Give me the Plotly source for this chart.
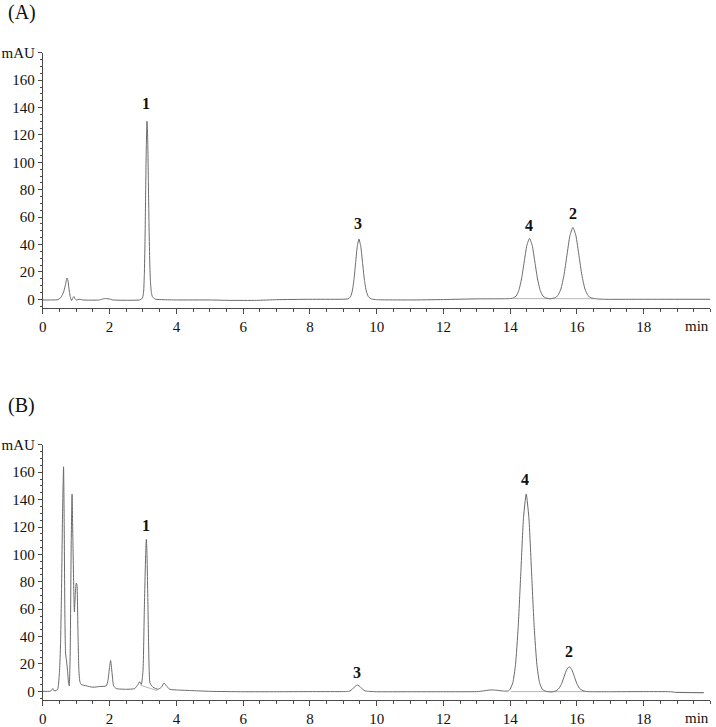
import plotly.graph_objects as go

# ---------------- Data ----------------
# Chromatogram (A): time (min) and absorbance (mAU)
a_time = [0.0, 0.3, 0.45, 0.52, 0.58, 0.63, 0.68, 0.72, 0.75, 0.78, 0.82, 0.86, 0.9, 0.93, 0.96,
          1.0, 1.1, 1.2, 1.7, 1.8, 1.9, 2.0, 2.1, 2.9, 2.96, 2.98, 3.0, 3.02, 3.04, 3.06, 3.08,
          3.1, 3.12, 3.14, 3.16, 3.18, 3.2, 3.22, 3.25, 3.28, 3.32, 3.38, 3.6, 4.0, 5.0, 5.6,
          6.4, 7.0, 8.0, 8.9, 9.12, 9.17, 9.22, 9.27, 9.32, 9.37, 9.42, 9.47, 9.525, 9.58,
          9.635, 9.69, 9.745, 9.8, 9.85, 10.0, 11.0, 12.0, 13.0, 14.0, 14.1, 14.18, 14.26,
          14.34, 14.42, 14.5, 14.58, 14.66, 14.74, 14.82, 14.9, 14.98, 15.06, 15.14, 15.2,
          15.25, 15.34, 15.43, 15.52, 15.61, 15.7, 15.79, 15.88, 15.97, 16.06, 16.15, 16.24,
          16.33, 16.42, 16.51, 16.6, 16.8, 18.0, 20.0]
a_mau = [-0.5, -0.5, -0.3, 0.8, 3, 6, 11, 15.5, 14, 8, 2, -1, 1, 2, 0.5,
         -0.5, 0, -0.5, -0.5, 0.3, 0.5, 0.2, -0.5, -0.5, 0.3, 0.8, 2.5, 6, 18, 42, 79,
         113, 130, 118, 88, 55, 30, 14, 5, 2, 0.8, 0, -0.3, -0.5, -0.5, -0.8,
         -0.8, -0.3, 0, 0, 0.2, 0.6, 2, 6, 14.3, 26.7, 38.8, 44, 38.5, 26,
         13.8, 6, 2.2, 0.8, 0.2, -0.3, -0.5, -0.2, 0.3, 0.5, 1.0, 2.4, 6.5,
         14.8, 27.2, 39.3, 44.5, 39.3, 27.2, 14.8, 6.5, 2.4, 1.0, 0.6, 0.3,
         0.6, 1.1, 2.8, 7.5, 17.4, 32, 46.4, 52.5, 46.4, 32, 17.4, 7.5,
         2.8, 1.1, 0.6, 0.3, 0, 0, 0]

# Chromatogram (B)
b_time = [0.0, 0.2, 0.25, 0.3, 0.33, 0.4, 0.45, 0.5, 0.53, 0.56, 0.59, 0.62, 0.64, 0.66, 0.68,
          0.71, 0.74, 0.77, 0.79, 0.82, 0.85, 0.875, 0.9, 0.93, 0.945, 0.97, 1.0, 1.02, 1.05,
          1.08, 1.11, 1.15, 1.3, 1.5, 1.7, 1.9, 1.95, 2.0, 2.03, 2.07, 2.12, 2.2, 2.5, 2.75,
          2.85, 2.9, 2.95, 3.0, 3.04, 3.08, 3.1, 3.12, 3.15, 3.18, 3.21, 3.3, 3.45, 3.55, 3.63,
          3.7, 3.8, 4.0, 4.5, 5.0, 6.0, 7.0, 8.0, 8.9, 9.1, 9.2, 9.27, 9.35, 9.43, 9.5, 9.58,
          9.65, 9.75, 10.0, 11.0, 12.0, 13.0, 13.2, 13.4, 13.6, 13.8, 13.95, 14.0, 14.08,
          14.16, 14.24, 14.32, 14.4, 14.48, 14.56, 14.64, 14.72, 14.8, 14.88, 14.96, 15.04,
          15.15, 15.25, 15.3, 15.35, 15.4, 15.47, 15.545, 15.62, 15.695, 15.77, 15.845, 15.92,
          15.995, 16.07, 16.15, 16.22, 16.3, 16.5, 17.0, 18.0, 18.8, 19.0, 19.8]
b_mau = [0, 0, 0.5, 2, 0.5, 0.5, 2, 15, 35, 75, 130, 164, 120, 55, 28,
         22, 15, 6, 4, 30, 110, 144, 110, 70, 58, 70, 79, 78, 45,
         15, 7, 5, 4, 3, 3.5, 4, 8, 18, 22.5, 14, 4, 2, 1.5, 2,
         5, 7, 5, 15, 60, 100, 111, 100, 60, 20, 6, 3, 1.5, 3, 6,
         4, 1.5, 1, 0.5, 0, -0.3, -0.3, -0.2, -0.2, -0.1, 0.2, 1.5, 3.5, 4.6, 3.5, 1.5,
         0.3, 0, -0.3, -0.3, -0.3, -0.2, 0.3, 1, 0.8, 0.2, 0.3, 1.6, 6.3,
         19.5, 46.8, 87.3, 127, 144, 127, 87.3, 46.8, 19.5, 6.3, 1.6, 0.3,
         -0.3, -0.5, -0.2, 0.2, 0.8, 2.4, 5.8, 11, 15.9, 18, 15.9, 11,
         5.8, 2.4, 0.8, 0.2, -0.2, -0.3, -0.3, -0.2, -0.3, -0.8, -1.0]

# Integration baselines (pale lines under some peaks)
a_base_time = [14.1, 16.55]
a_base_mau = [0.5, 0.4]
b_base1_time = [2.93, 3.43]
b_base1_mau = [4.4, 0.5]
b_base2_time = [14.02, 16.25]
b_base2_mau = [-0.2, -0.2]
b_base3_time = [19.0, 19.8]
b_base3_mau = [-0.7, -1.0]

# Peak labels: (label, time, mAU position)
a_peaks = [("1", 3.1, 143), ("3", 9.45, 55), ("4", 14.55, 54), ("2", 15.87, 63)]
b_peaks = [("1", 3.1, 121), ("3", 9.42, 14), ("4", 14.43, 155), ("2", 15.77, 29)]

x_ticks = [0, 2, 4, 6, 8, 10, 12, 14, 16, 18]
y_ticks = [0, 20, 40, 60, 80, 100, 120, 140, 160, 180]
y_ticktext = ["0", "20", "40", "60", "80", "100", "120", "140", "160", "mAU"]

# ---------------- Figure ----------------
W, H = 716, 727
FONT = "Liberation Serif"
LINE = "#6a6a6a"
AX = "#4a4a4a"
BASE = "#b8b8b8"

# correction between layout pixels and photographed pixels (measured)
fx = lambda t: (t - 2.0) / 0.998
fy = lambda t: (t - 7.1) / 0.990

X0, X_END = fx(41), fx(711)
PX_PER_MIN = 33.5 / 0.998
X_MAX = (X_END - X0) / PX_PER_MIN

fig = go.Figure()

def add(t, v, xa, ya, color, width=1.0):
    fig.add_trace(go.Scatter(x=t, y=v, xaxis=xa, yaxis=ya, mode="lines",
                             line=dict(color=color, width=width, shape="spline", smoothing=0.5),
                             showlegend=False, hoverinfo="skip"))

add(a_base_time, a_base_mau, "x", "y", BASE, 1)
add(a_time, a_mau, "x", "y", LINE)
add(b_base1_time, b_base1_mau, "x2", "y2", BASE, 1)
add(b_base2_time, b_base2_mau, "x2", "y2", BASE, 1)
add(b_base3_time, b_base3_mau, "x2", "y2", BASE, 1)
add(b_time, b_mau, "x2", "y2", LINE)

px_x = lambda p: min(1.0, max(0.0, fx(p) / W))
px_y = lambda p: min(1.0, max(0.0, 1 - fy(p) / H))

xdom = [px_x(41), px_x(711)]
ydomA = [px_y(308), px_y(52)]
ydomB = [px_y(701), px_y(445)]

TF = dict(family=FONT, size=15, color="#111")

def xaxis(anchor):
    return dict(domain=xdom, anchor=anchor, range=[0, X_MAX], showgrid=False, zeroline=False,
                showline=True, linecolor=AX, linewidth=1, ticks="outside", ticklen=5,
                tickcolor=AX, tickwidth=1, tickmode="array", tickvals=x_ticks,
                tickfont=TF,
                minor=dict(tickmode="linear", tick0=0, dtick=0.5, ticklen=3, ticks="outside",
                           tickcolor=AX, showgrid=False),
                fixedrange=True)

def yaxis(anchor, dom):
    return dict(domain=dom, anchor=anchor, range=[-6.5, 180], showgrid=False, zeroline=False,
                showline=True, linecolor=AX, linewidth=1, ticks="outside", ticklen=4,
                tickcolor=AX, tickwidth=1, tickmode="array", tickvals=y_ticks,
                ticktext=y_ticktext, tickfont=TF,
                minor=dict(tickmode="linear", tick0=0, dtick=5, ticklen=2, ticks="outside",
                           tickcolor=AX, showgrid=False),
                fixedrange=True)

PF = dict(family=FONT, size=16, color="#111")
annotations = []
for lab, t, v in a_peaks:
    annotations.append(dict(x=t, y=v, xref="x", yref="y", text="<b>%s</b>" % lab,
                            showarrow=False, font=PF))
for lab, t, v in b_peaks:
    annotations.append(dict(x=t, y=v, xref="x2", yref="y2", text="<b>%s</b>" % lab,
                            showarrow=False, font=PF))
annotations.append(dict(x=19.6, y=px_y(326), xref="x", yref="paper", text="min", showarrow=False,
                        font=TF, yanchor="middle"))
annotations.append(dict(x=19.6, y=px_y(719), xref="x2", yref="paper", text="min", showarrow=False,
                        font=TF, yanchor="middle"))
annotations.append(dict(x=px_x(4), y=px_y(12), xref="paper", yref="paper", text="(A)", showarrow=False,
                        xanchor="left", yanchor="middle", font=dict(family=FONT, size=20, color="#111")))
annotations.append(dict(x=px_x(4), y=px_y(406), xref="paper", yref="paper", text="(B)", showarrow=False,
                        xanchor="left", yanchor="middle", font=dict(family=FONT, size=20, color="#111")))

fig.update_layout(
    width=W, height=H, margin=dict(l=0, r=0, t=0, b=0),
    paper_bgcolor="white", plot_bgcolor="white",
    xaxis=xaxis("y"), yaxis=yaxis("x", ydomA),
    xaxis2=xaxis("y2"), yaxis2=yaxis("x2", ydomB),
    annotations=annotations, showlegend=False,
)

# page without default margins / stray line box so the figure fills the window exactly
page_js = """
document.documentElement.style.margin='0';
document.documentElement.style.padding='0';
document.documentElement.style.overflow='hidden';
document.body.style.margin='0';
document.body.style.padding='0';
document.body.style.overflow='hidden';
var gd = document.getElementById('{plot_id}');
gd.style.display = 'block';
if (gd.parentElement) { gd.parentElement.style.lineHeight = '0'; gd.parentElement.style.fontSize = '0'; }
var sc = gd.querySelector('.svg-container');
if (sc) { sc.style.display = 'block'; }
"""
fig.write_html("out.html", config={"displayModeBar": False}, post_script=page_js)
